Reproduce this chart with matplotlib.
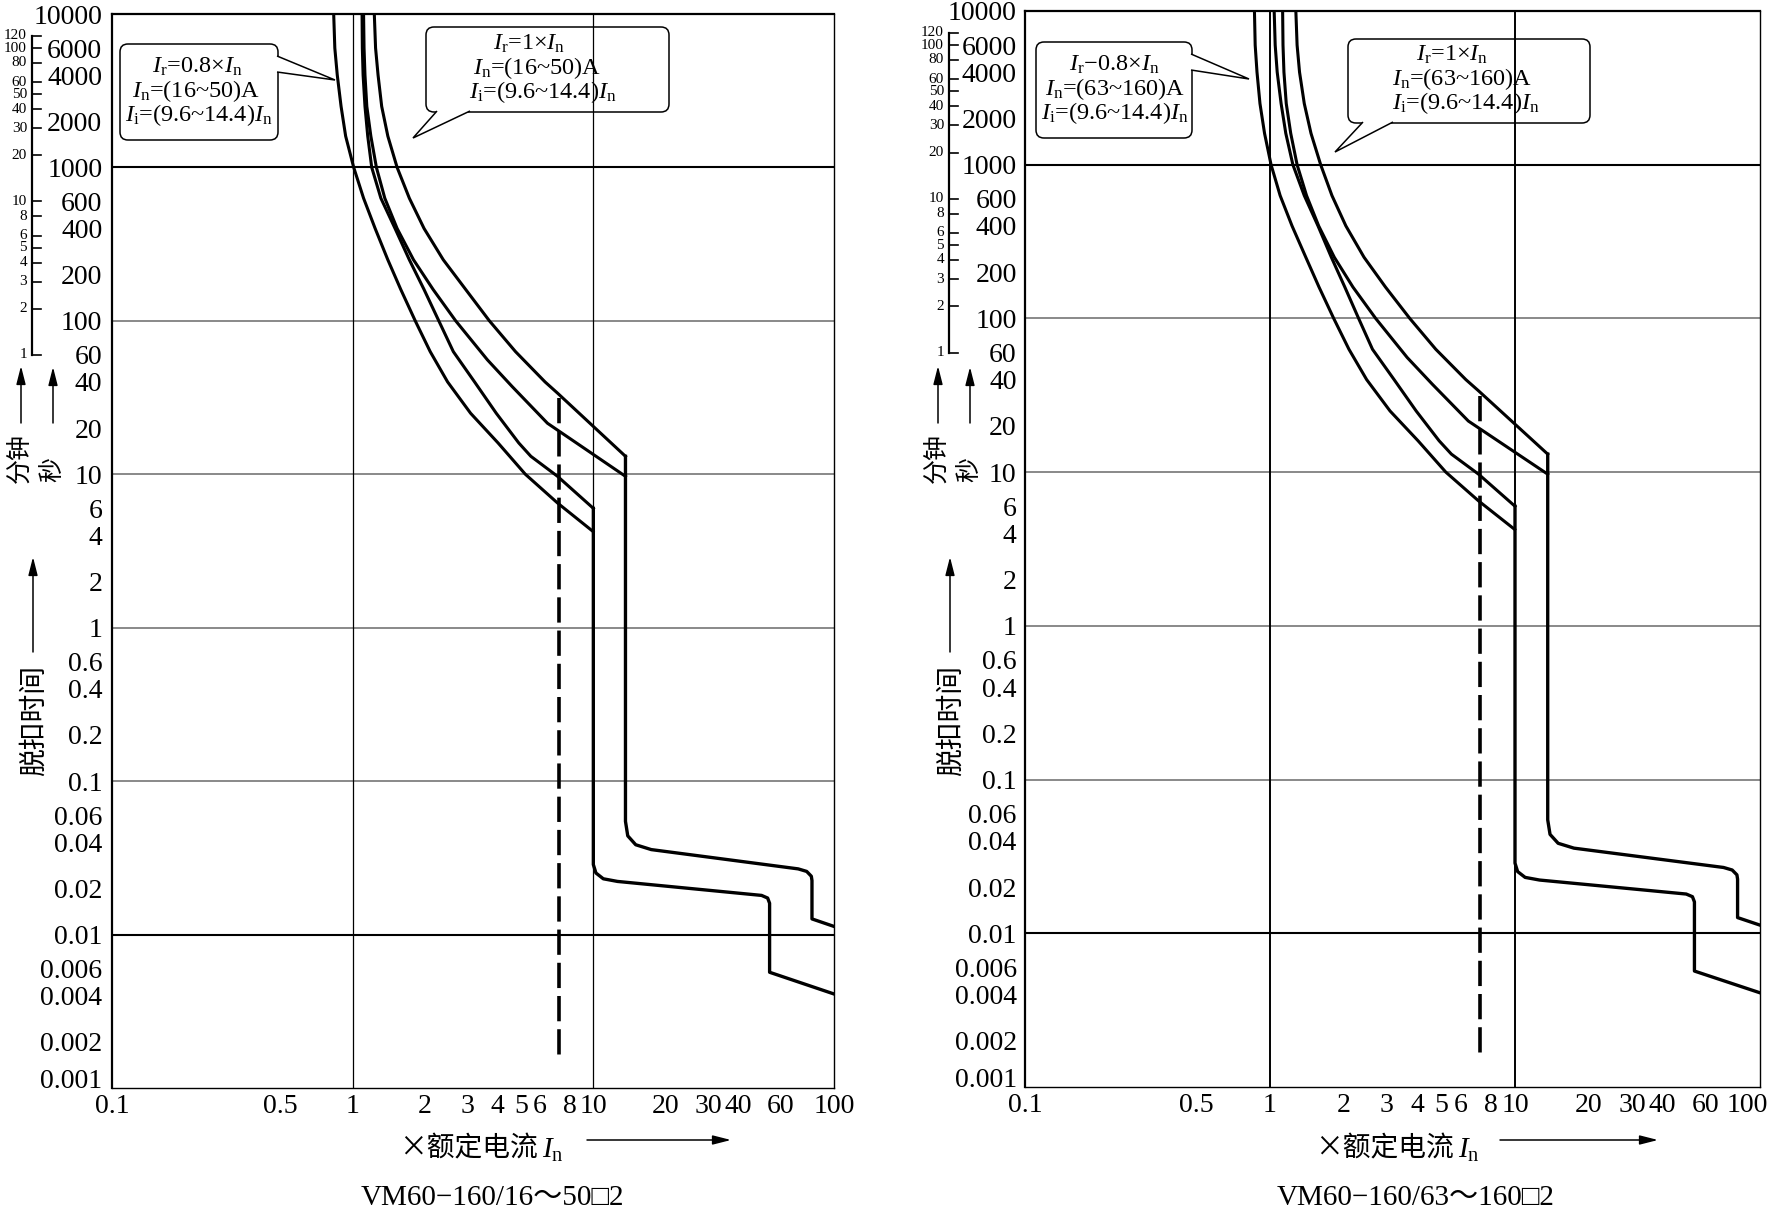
import numpy as np
import matplotlib
matplotlib.use('Agg')
import matplotlib.pyplot as plt
from matplotlib import transforms
from matplotlib.patches import FancyBboxPatch, Polygon, FancyArrowPatch

plt.rcParams['font.family'] = ['Liberation Serif', 'Noto Sans CJK SC', 'DejaVu Sans']
plt.rcParams['mathtext.fontset'] = 'custom'
plt.rcParams['mathtext.rm'] = 'Liberation Serif'
plt.rcParams['mathtext.it'] = 'Liberation Serif:italic'

W, H = 1769, 1214
CJK = 'Noto Sans CJK SC'

# axes ticks
x_ticks = [0.1, 0.5, 1, 2, 3, 4, 5, 6, 8, 10, 20, 30, 40, 60, 100]
x_tick_labels = ['0.1', '0.5', '1', '2', '3', '4', '5', '6', '8', '10', '20', '30', '40', '60', '100']
y_ticks = [10000, 6000, 4000, 2000, 1000, 600, 400, 200, 100, 60, 40, 20, 10, 6, 4, 2, 1,
           0.6, 0.4, 0.2, 0.1, 0.06, 0.04, 0.02, 0.01, 0.006, 0.004, 0.002, 0.001]
y_tick_labels = ['10000', '6000', '4000', '2000', '1000', '600', '400', '200', '100', '60', '40',
                 '20', '10', '6', '4', '2', '1', '0.6', '0.4', '0.2', '0.1', '0.06', '0.04',
                 '0.02', '0.01', '0.006', '0.004', '0.002', '0.001']
minutes = [120, 100, 80, 60, 50, 40, 30, 20, 10, 8, 6, 5, 4, 3, 2, 1]

grid_thick = [1000, 0.01]
grid_thin = [100, 10, 1, 0.1]
grid_v = [1, 10]

# thermal curves (x = multiple of In, t = seconds), left chart
l_a_x = [0.834, 0.843, 0.863, 0.895, 0.935, 1.01, 1.11, 1.24, 1.40, 1.585, 1.82, 2.10, 2.48,
         3.09, 4.02, 5.22, 7.1, 9.97]
l_a_t = [10000, 6000, 4000, 2500, 1600, 1000, 630, 400, 250, 160, 100, 63, 40, 25, 16, 10, 6.5, 4.24]
l_b_x = [1.094, 1.097, 1.105, 1.125, 1.155, 1.20, 1.31, 1.50, 1.72, 1.98, 2.28, 2.62, 3.21,
         3.95, 4.9, 5.5, 7.1, 10.0]
l_b_t = [10000, 6000, 4000, 2500, 1600, 1000, 630, 400, 250, 160, 100, 63, 40, 25, 16, 13.1, 9.7, 6.0]
l_c_x = [1.11, 1.115, 1.125, 1.145, 1.19, 1.255, 1.36, 1.53, 1.79, 2.16, 2.68, 3.63, 4.60, 6.45, 13.6]
l_c_t = [10000, 6000, 4000, 2500, 1600, 1000, 630, 400, 250, 160, 100, 55.7, 37.3, 21.5, 9.7]
l_d_x = [1.23, 1.245, 1.275, 1.32, 1.40, 1.53, 1.72, 1.98, 2.38, 2.95, 3.70, 4.75, 6.3, 7.1, 13.6]
l_d_t = [10000, 6000, 4000, 2500, 1600, 1000, 630, 400, 250, 160, 100, 63, 40, 33.8, 13.1]

# right chart
r_a_x = [0.864, 0.87, 0.885, 0.91, 0.95, 1.01, 1.10, 1.23, 1.40, 1.585, 1.82, 2.10, 2.48,
         3.09, 4.02, 5.22, 7.1, 9.97]
r_a_t = [10000, 6000, 4000, 2500, 1600, 1000, 630, 400, 250, 160, 100, 63, 40, 25, 16, 10, 6.5, 4.24]
r_b_x = [1.04, 1.05, 1.07, 1.11, 1.16, 1.24, 1.38, 1.57, 1.78, 2.02, 2.30, 2.62, 3.21,
         3.95, 4.9, 5.5, 7.1, 10.0]
r_b_t = [10000, 6000, 4000, 2500, 1600, 1000, 630, 400, 250, 160, 100, 63, 40, 25, 16, 13.1, 9.7, 6.0]
r_c_x = [1.126, 1.13, 1.14, 1.165, 1.215, 1.29, 1.41, 1.58, 1.83, 2.18, 2.70, 3.63, 4.60, 6.45, 13.6]
r_c_t = [10000, 6000, 4000, 2500, 1600, 1000, 630, 400, 250, 160, 100, 55.7, 37.3, 21.5, 9.7]
r_d_x = [1.275, 1.29, 1.32, 1.38, 1.47, 1.61, 1.79, 2.04, 2.42, 2.96, 3.72, 4.75, 6.3, 7.1, 13.6]
r_d_t = [10000, 6000, 4000, 2500, 1600, 1000, 630, 400, 250, 160, 100, 63, 40, 33.8, 13.1]

# instantaneous trip parts (both charts)
inst_lo_x = [10, 10, 10.25, 11.0, 12.6, 50, 53, 54, 54, 100]
inst_lo_t = [6.0, 0.0286, 0.0252, 0.0231, 0.0222, 0.0180, 0.0173, 0.0160, 0.00568, 0.0041]
inst_hi_x = [13.6, 13.6, 13.9, 15.0, 17.4, 71, 77, 80.5, 81, 81, 100]
inst_hi_t = [13.1, 0.0547, 0.0440, 0.0385, 0.0358, 0.0268, 0.0258, 0.0240, 0.0225, 0.01265, 0.0113]
dash_x = [7.18, 7.18]
dash_t = [31.5, 0.0016]

box_l1 = [r'$I_{\rm r}$=0.8×$I_{\rm n}$', r'$I_{\rm n}$=(16~50)A', r'$I_{\rm i}$=(9.6~14.4)$I_{\rm n}$']
box_l2 = [r'$I_{\rm r}$=1×$I_{\rm n}$', r'$I_{\rm n}$=(16~50)A', r'$I_{\rm i}$=(9.6~14.4)$I_{\rm n}$']
box_r1 = [r'$I_{\rm r}$−0.8×$I_{\rm n}$', r'$I_{\rm n}$=(63~160)A', r'$I_{\rm i}$=(9.6~14.4)$I_{\rm n}$']
box_r2 = [r'$I_{\rm r}$=1×$I_{\rm n}$', r'$I_{\rm n}$=(63~160)A', r'$I_{\rm i}$=(9.6~14.4)$I_{\rm n}$']
cap_l = 'VM60−160/16～50□2'
cap_r = 'VM60−160/63～160□2'

fig = plt.figure(figsize=(W / 100, H / 100), dpi=100)
fig.patch.set_facecolor('white')
T = transforms.Affine2D().scale(1.0 / W, -1.0 / H).translate(0, 1) + fig.transFigure
Tx = transforms.Affine2D().scale(1.0 / W, 1.0) + fig.transFigure


def arrow(p0, p1):
    fig.add_artist(FancyArrowPatch(p0, p1, transform=T, color='k', lw=1.1,
                                   arrowstyle='-|>,head_length=1.1,head_width=0.28',
                                   mutation_scale=10, shrinkA=0, shrinkB=0))


def callout(rect, tail, lines, pos):
    x0, y0, x1, y1 = rect
    fig.add_artist(FancyBboxPatch((x0, y0), x1 - x0, y1 - y0, transform=T,
                                  boxstyle='round,pad=0,rounding_size=8',
                                  fc='none', ec='k', lw=1.1, zorder=5))
    fig.add_artist(Polygon(tail, closed=False, transform=T, fc='white', ec='k',
                           lw=1.1, zorder=6))
    for s, (tx, ty) in zip(lines, pos):
        fig.text(tx, ty, s, transform=T, ha='center', va='baseline', fontsize=17.5, zorder=7)


def panel(rect, curves, dx, vlw, ypad, boxes, xlab_x, arr_x, cap, cap_x, last_shift):
    ax = fig.add_axes([rect[0] / W, 1 - rect[3] / H, (rect[2] - rect[0]) / W, (rect[3] - rect[1]) / H])
    ax.set_xscale('log')
    ax.set_yscale('log')
    ax.set_xlim(0.1, 100)
    ax.set_ylim(0.001, 10000)
    ax.set_xticks(x_ticks)
    ax.set_xticklabels(x_tick_labels)
    ax.set_yticks(y_ticks)
    ax.set_yticklabels(y_tick_labels)
    ax.minorticks_off()
    ax.tick_params(axis='both', length=0, labelsize=20)
    ax.tick_params(axis='x', pad=4)
    ax.tick_params(axis='y', pad=ypad)
    ax.get_yticklabels()[-1].set_verticalalignment('baseline')
    if last_shift:
        lab = ax.get_xticklabels()[-1]
        lab.set_transform(lab.get_transform() +
                          transforms.ScaledTranslation(-last_shift / 100, 0, fig.dpi_scale_trans))
    for s in ['top', 'left']:
        ax.spines[s].set_linewidth(1.6)
    for s in ['right', 'bottom']:
        ax.spines[s].set_linewidth(1.0)
    for t in grid_thick:
        ax.axhline(t, color='k', lw=1.5, zorder=1)
    for t in grid_thin:
        ax.axhline(t, color='#6a6a6a', lw=1.1, zorder=1)
    for v in grid_v:
        ax.axvline(v, color='k', lw=vlw, zorder=1)
    for cx, ct in curves:
        ax.plot(cx, ct, color='k', lw=2.2, solid_joinstyle='round')
    ax.plot(inst_lo_x, inst_lo_t, color='k', lw=2.4, solid_joinstyle='round')
    ax.plot(inst_hi_x, inst_hi_t, color='k', lw=2.4, solid_joinstyle='round')
    ax.plot(dash_x, dash_t, color='k', lw=2.6, dashes=(7, 2.2))

    # minute scale on the left
    bt = transforms.blended_transform_factory(Tx, ax.transData)
    lx = 32 + dx
    ax.plot([lx, lx], [minutes[0] * 60, minutes[-1] * 60], color='k', lw=1.6,
            transform=bt, clip_on=False)
    for m in minutes:
        ax.plot([lx, lx + 9], [m * 60, m * 60], color='k', lw=1.2, transform=bt, clip_on=False)
        ax.text(lx - 5, m * 60, str(m), transform=bt, ha='right', va='center', fontsize=11)

    fig.text(21 + dx, 458, '分钟', transform=T, rotation=90, ha='center', va='center',
             fontsize=18, family=CJK)
    fig.text(52 + dx, 470, '秒', transform=T, rotation=90, ha='center', va='center',
             fontsize=18, family=CJK)
    fig.text(34 + dx, 721, '脱扣时间', transform=T, rotation=90, ha='center', va='center',
             fontsize=20, family=CJK)
    arrow((21 + dx, 423), (21 + dx, 366))
    arrow((53 + dx, 423), (53 + dx, 367))
    arrow((33 + dx, 652), (33 + dx, 557))

    fig.text(xlab_x, 1148, '×额定电流', transform=T, ha='right', va='center',
             fontsize=20, family=CJK)
    fig.text(xlab_x + 4, 1150, r'$I_{\rm n}$', transform=T, ha='left', va='center', fontsize=21)
    arrow((arr_x[0], 1140), (arr_x[1], 1140))
    fig.text(cap_x, 1198, cap, transform=T, ha='center', va='center', fontsize=21)

    for b in boxes:
        callout(*b)
    return ax


panel((112, 14, 834, 1088),
      [(l_a_x, l_a_t), (l_b_x, l_b_t), (l_c_x, l_c_t), (l_d_x, l_d_t)],
      0, 0.9, 7,
      [((120, 44, 278, 140), [(277, 56), (335, 80), (277, 72)], box_l1,
        [(197, 73), (196, 97), (199, 121)]),
       ((426, 27, 669, 112), [(437, 111), (413, 138), (470, 111)], box_l2,
        [(529, 50), (537, 74), (543, 98)])],
      538, (587, 731), cap_l, 492, 0)

panel((1025, 11, 1760, 1087),
      [(r_a_x, r_a_t), (r_b_x, r_b_t), (r_c_x, r_c_t), (r_d_x, r_d_t)],
      917, 1.4, 6,
      [((1036, 42, 1192, 138), [(1191, 54), (1249, 79), (1191, 70)], box_r1,
        [(1114, 71), (1115, 95), (1115, 119)]),
       ((1348, 39, 1590, 123), [(1363, 122), (1335, 152), (1393, 122)], box_r2,
        [(1452, 61), (1462, 85), (1466, 109)])],
      1454, (1500, 1658), cap_r, 1416, 13)

fig.savefig('out.png', dpi=100, facecolor='white')
